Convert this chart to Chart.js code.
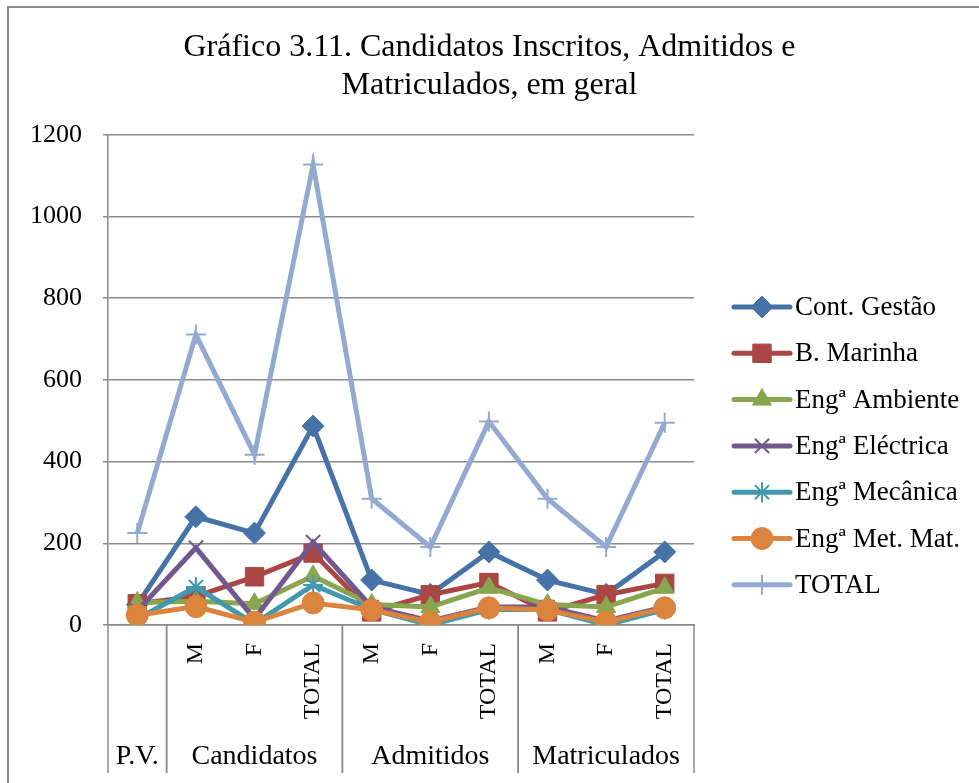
<!DOCTYPE html>
<html>
<head>
<meta charset="utf-8">
<script src="https://cdn.jsdelivr.net/npm/chart.js@4.4.1/dist/chart.umd.min.js"></script>
<style>
  html, body { margin: 0; padding: 0; background: #fff; }
  canvas { display: block; }
</style>
</head>
<body>
<canvas id="c" width="979" height="783"></canvas>
<script>
/* chart data */
var categories = ["", "M", "F", "TOTAL", "M", "F", "TOTAL", "M", "F", "TOTAL"];
var groupNames = ["P.V.", "Candidatos", "Admitidos", "Matriculados"];
var groupStart = [0, 1, 4, 7];
var groupEnd = [0, 3, 6, 9];

var seriesNames = ["Cont. Gestão", "B. Marinha", "Engª Ambiente", "Engª Eléctrica", "Engª Mecânica", "Engª Met. Mat.", "TOTAL"];
var contGestao = [50, 265, 225, 487, 110, 75, 179, 110, 75, 179];
var bMarinha = [52, 70, 118, 176, 32, 74, 104, 32, 74, 102];
var engAmbiente = [55, 58, 52, 120, 50, 44, 91, 50, 44, 91];
var engElectrica = [35, 189, 15, 203, 44, 10, 44, 44, 10, 44];
var engMecanica = [15, 93, 3, 98, 38, 0, 38, 38, 0, 38];
var engMetMat = [24, 45, 7, 54, 37, 7, 42, 37, 7, 42];
var totalGeral = [225, 711, 417, 1127, 309, 191, 498, 309, 191, 495];

var yTicks = [0, 200, 400, 600, 800, 1000, 1200];

var SERIF = "'Liberation Serif', 'Times New Roman', serif";
var GRID = "#8a8a8a";

/* look of each series: colour, marker, marker size */
var looks = [
  { c: "#4572A7", p: "rectRot", r: 11, bw: 1 },
  { c: "#AA4643", p: "rect", r: 13, bw: 1 },
  { c: "#89A54E", p: "triangle", r: 11, bw: 1 },
  { c: "#71588F", p: "crossRot", r: 10, bw: 2 },
  { c: "#4198AF", p: "star", r: 10, bw: 2 },
  { c: "#DB843D", p: "circle", r: 11, bw: 1 },
  { c: "#93A9CF", p: "cross", r: 10, bw: 2 }
];
var allSeries = [contGestao, bMarinha, engAmbiente, engElectrica, engMecanica, engMetMat, totalGeral];

var datasets = allSeries.map(function (vals, i) {
  var l = looks[i];
  return {
    label: seriesNames[i],
    data: vals,
    borderColor: l.c,
    backgroundColor: l.c,
    borderWidth: 5,
    pointStyle: l.p,
    pointRadius: l.r,
    pointBorderWidth: l.bw,
    pointBackgroundColor: l.c,
    pointBorderColor: l.c,
    tension: 0,
    order: allSeries.length - i
  };
});

/* group row under the axis, frame and legend */
var decor = {
  id: "decor",
  afterDraw: function (chart) {
    var ctx = chart.ctx;
    var x = chart.scales.x;
    var area = chart.chartArea;
    var step = x.getPixelForValue(1) - x.getPixelForValue(0);
    var yEnd = 773;

    ctx.save();
    // outer frame (top + left)
    ctx.strokeStyle = "#8c8c8c";
    ctx.lineWidth = 2;
    ctx.beginPath();
    ctx.moveTo(8, 783);
    ctx.lineTo(8, 7);
    ctx.lineTo(979, 7);
    ctx.stroke();

    // group separators and names
    ctx.strokeStyle = GRID;
    ctx.lineWidth = 1.5;
    ctx.fillStyle = "#000";
    ctx.font = "28px " + SERIF;
    ctx.textAlign = "center";
    ctx.textBaseline = "middle";
    groupNames.forEach(function (name, g) {
      var x0 = x.getPixelForValue(groupStart[g]) - step / 2;
      var x1 = x.getPixelForValue(groupEnd[g]) + step / 2;
      ctx.beginPath();
      ctx.moveTo(x0, area.bottom);
      ctx.lineTo(x0, yEnd);
      ctx.moveTo(x1, area.bottom);
      ctx.lineTo(x1, yEnd);
      ctx.stroke();
      ctx.fillText(name, (x0 + x1) / 2, 757);
    });

    // legend
    var lx0 = 734, lx1 = 790, ly = 307, gap = 46.3;
    ctx.textAlign = "left";
    ctx.font = "27px " + SERIF;
    chart.data.datasets.forEach(function (ds, i) {
      var y = ly + gap * i;
      ctx.strokeStyle = ds.borderColor;
      ctx.fillStyle = ds.borderColor;
      ctx.lineWidth = 5;
      ctx.lineCap = "round";
      ctx.beginPath();
      ctx.moveTo(lx0, y);
      ctx.lineTo(lx1, y);
      ctx.stroke();
      ctx.lineCap = "butt";
      ctx.lineWidth = ds.pointBorderWidth;
      if (Chart.helpers && Chart.helpers.drawPoint) {
        Chart.helpers.drawPoint(ctx, { pointStyle: ds.pointStyle, radius: ds.pointRadius, rotation: 0, borderWidth: ds.pointBorderWidth }, (lx0 + lx1) / 2, y);
      }
      ctx.fillStyle = "#000";
      ctx.fillText(ds.label, 795, y + 1);
    });
    ctx.restore();
  }
};

new Chart(document.getElementById("c"), {
  type: "line",
  data: { labels: categories, datasets: datasets },
  plugins: [decor],
  options: {
    responsive: false,
    animation: false,
    devicePixelRatio: 1,
    layout: { padding: 0 },
    plugins: {
      legend: { display: false },
      tooltip: { enabled: false },
      title: {
        display: true,
        text: ["Gráfico 3.11. Candidatos Inscritos, Admitidos e", "Matriculados, em geral"],
        color: "#000",
        font: { family: SERIF, size: 32, weight: "normal", lineHeight: 1.2 },
        padding: { top: 28, bottom: 30 }
      }
    },
    scales: {
      x: {
        offset: true,
        grid: { display: false, drawTicks: false },
        border: { display: true, color: GRID, width: 1.5 },
        ticks: {
          color: "#000",
          font: { family: SERIF, size: 24, lineHeight: 1 },
          minRotation: 90,
          maxRotation: 90,
          autoSkip: false,
          padding: 18
        },
        afterFit: function (s) { s.height = 158; }
      },
      y: {
        min: 0,
        max: 1200,
        afterBuildTicks: function (s) { s.ticks = yTicks.map(function (v) { return { value: v }; }); },
        grid: { color: GRID, lineWidth: 1.5, tickLength: 5 },
        border: { display: true, color: GRID, width: 1.5 },
        ticks: {
          color: "#000",
          font: { family: SERIF, size: 26 },
          padding: 21,
          callback: function (v) { return String(v); }
        },
        afterFit: function (s) { s.width = 108; }
      },
      pad: {
        type: "linear",
        position: "right",
        display: true,
        grid: { display: false, drawOnChartArea: false },
        border: { display: false },
        ticks: { display: false },
        afterFit: function (s) { s.width = 285; }
      }
    }
  }
});
</script>
</body>
</html>
